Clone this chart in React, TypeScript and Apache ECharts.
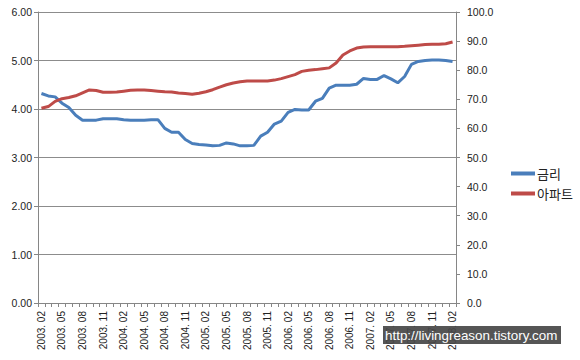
import React, { useEffect, useRef } from "react";
import * as echarts from "echarts";

const months: string[] = [];
for (let y = 2003; y <= 2008; y++) {
  for (let m = 1; m <= 12; m++) {
    if ((y === 2003 && m < 2) || (y === 2008 && m > 2)) continue;
    months.push(`${y}. ${String(m).padStart(2, "0")}`);
  }
}

const rateValues = [
  4.32, 4.27, 4.25, 4.12, 4.03, 3.87, 3.77, 3.77, 3.77, 3.8,
  3.8, 3.8, 3.78, 3.77, 3.77, 3.77, 3.78, 3.78, 3.6, 3.52,
  3.52, 3.37, 3.29, 3.27, 3.26, 3.24, 3.25, 3.3, 3.28, 3.24,
  3.24, 3.25, 3.44, 3.52, 3.69, 3.75, 3.93, 3.99, 3.98, 3.98,
  4.16, 4.22, 4.43, 4.49, 4.49, 4.49, 4.51, 4.63, 4.61, 4.61,
  4.69, 4.62, 4.54, 4.67, 4.92, 4.98, 5.0, 5.01, 5.01, 5.0,
  4.98,
];

const aptValues = [
  66.9, 67.5, 69.3, 70.2, 70.6, 71.2, 72.2, 73.2, 73.0, 72.4,
  72.4, 72.5, 72.8, 73.1, 73.2, 73.2, 73.0, 72.8, 72.6, 72.5,
  72.2, 72.0, 71.7, 72.1, 72.6, 73.3, 74.2, 75.0, 75.6, 76.0,
  76.3, 76.3, 76.3, 76.3, 76.6, 77.1, 77.8, 78.5, 79.6, 80.0,
  80.2, 80.5, 80.8, 82.5, 85.2, 86.6, 87.6, 88.0, 88.1, 88.1,
  88.1, 88.1, 88.1, 88.2, 88.4, 88.6, 88.8, 88.9, 88.9, 89.1,
  89.7,
];

const seriesNames = ["금리", "아파트"];
const watermark = "http://livingreason.tistory.com";

const FONT = "'Liberation Sans', Arial, sans-serif";
const AXIS_GRAY = "#868686";

export default function App() {
  const ref = useRef<HTMLDivElement>(null);
  useEffect(() => {
    if (!ref.current) return;
    const chart = echarts.init(ref.current, undefined, { renderer: "svg" });
    chart.setOption({
      animation: false,
      backgroundColor: "#ffffff",
      textStyle: { fontFamily: FONT },
      grid: { left: 38, right: 124, top: 12, bottom: 57, containLabel: false },
      legend: {
        orient: "vertical",
        left: 506,
        top: 162,
        itemWidth: 24,
        itemHeight: 4,
        itemGap: 7,
        icon: "rect",
        textStyle: { fontSize: 13, color: "#222", fontFamily: "'Noto Sans CJK KR', sans-serif", padding: [0, 0, 0, -3] },
        data: seriesNames,
      },
      xAxis: {
        type: "category",
        data: months,
        boundaryGap: true,
        axisLine: { lineStyle: { color: AXIS_GRAY } },
        axisTick: { show: true, interval: 0, length: 4, lineStyle: { color: AXIS_GRAY } },
        axisLabel: { interval: 2, rotate: 90, margin: 8, fontSize: 10, color: "#222", fontFamily: FONT },
        splitLine: { show: false },
      },
      yAxis: [
        {
          type: "value",
          min: 0,
          max: 6,
          interval: 1,
          axisLine: { show: true, lineStyle: { color: AXIS_GRAY } },
          axisTick: { show: true, length: 4, lineStyle: { color: AXIS_GRAY } },
          axisLabel: { formatter: (v: number) => v.toFixed(2), fontSize: 10.5, color: "#222", margin: 6, fontFamily: FONT },
          splitLine: { show: true, lineStyle: { color: "#8c8c8c", width: 1 } },
        },
        {
          type: "value",
          min: 0,
          max: 100,
          interval: 10,
          position: "right",
          axisLine: { show: true, lineStyle: { color: AXIS_GRAY } },
          axisTick: { show: true, length: 4, lineStyle: { color: AXIS_GRAY } },
          axisLabel: { formatter: (v: number) => v.toFixed(1), fontSize: 10.5, color: "#222", margin: 11, fontFamily: FONT },
          splitLine: { show: false },
        },
      ],
      series: [
        {
          name: seriesNames[0],
          type: "line",
          yAxisIndex: 0,
          data: rateValues,
          showSymbol: false,
          symbol: "none",
          lineStyle: { color: "#4a7ebb", width: 3 },
          itemStyle: { color: "#4a7ebb" },
        },
        {
          name: seriesNames[1],
          type: "line",
          yAxisIndex: 1,
          data: aptValues,
          showSymbol: false,
          symbol: "none",
          lineStyle: { color: "#be4b48", width: 3 },
          itemStyle: { color: "#be4b48" },
        },
      ],
      graphic: [
        {
          type: "rect",
          shape: { x: 383, y: 326, width: 178, height: 18 },
          style: { fill: "rgba(70,70,70,0.92)" },
          z: 100,
        },
        {
          type: "text",
          x: 385,
          y: 335,
          style: { text: watermark, fill: "#ffffff", fontSize: 13.4, fontFamily: FONT, verticalAlign: "middle" },
          z: 101,
        },
      ],
    });
    return () => chart.dispose();
  }, []);
  return (
    <div
      ref={ref}
      style={{ position: "fixed", left: 0, top: 0, width: 580, height: 360 }}
    />
  );
}
